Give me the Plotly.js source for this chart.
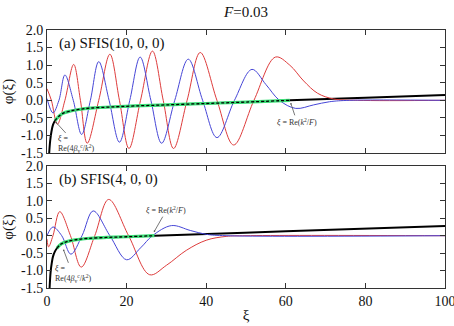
<!DOCTYPE html>
<html>
<head>
<meta charset="utf-8">
<script src="https://cdn.plot.ly/plotly-3.0.1.min.js"></script>
<style>html,body{margin:0;padding:0;background:#fff;}#chart{width:454px;height:326px;}</style>
</head>
<body>
<div id="chart"></div>
<script>
// ---------- data ----------
// Panel (a) SFIS(10,0,0)
const redXiA  = [0, 1.1, 2.6, 4.5, 6.7, 8.4, 10.1, 13.0, 15.8, 18.2, 20.6, 23.5, 26.5, 29.2, 31.8, 35.2, 38.5, 42.7, 46.9, 52.0, 57.4, 61.0, 64.5, 68.0, 72.0, 78.0, 100];
const redPhiA = [0.33, 0, -0.68, 0, 1.02, 0, -1.22, 0, 1.31, 0, -1.37, 0, 1.40, 0, -1.37, 0, 1.36, 0, -1.27, 0, 1.23, 1.0, 0.55, 0.2, 0.04, 0, 0];
const blueXiA  = [0, 1.5, 3.0, 4.5, 6.6, 8.7, 10.9, 13.0, 15.6, 18.2, 20.8, 23.4, 26.1, 28.8, 32.1, 35.5, 39.1, 42.7, 47.1, 51.5, 55.0, 58.4, 62.5, 67.0, 71.0, 76.0, 100];
const bluePhiA = [0.05, -0.36, 0, 0.72, 0, -0.97, 0, 1.10, 0, -1.19, 0, 1.23, 0, -1.22, 0, 1.17, 0, -1.06, 0, 0.88, 0.45, 0, -0.23, -0.13, -0.04, 0, 0];
const blackXiA  = [0.55, 0.8, 1.1, 1.5, 2.0, 3.0, 4.0, 5.7, 8.0, 11.0, 16.0, 22.0, 30.0, 40.0, 50.0, 61.0, 80.0, 100];
const blackPhiA = [-1.5, -1.15, -0.9, -0.7, -0.58, -0.45, -0.37, -0.31, -0.26, -0.22, -0.19, -0.16, -0.13, -0.09, -0.05, 0, 0.075, 0.15];
const greenXiA  = [2.0, 3.0, 4.0, 5.7, 8.0, 11.0, 16.0, 22.0, 30.0, 40.0, 50.0, 61.0];
const greenPhiA = [-0.58, -0.45, -0.37, -0.31, -0.26, -0.22, -0.19, -0.16, -0.13, -0.09, -0.05, 0];

// Panel (b) SFIS(4,0,0)
const redXiB  = [0, 0.4, 1.5, 3.2, 5.9, 8.6, 12.0, 15.5, 20.5, 25.8, 30.0, 35.0, 40.0, 45.0, 50.0, 100];
const redPhiB = [-0.1, -0.32, 0, 0.69, 0, -0.90, 0, 1.04, 0, -1.12, -0.85, -0.42, -0.13, -0.02, 0, 0];
const blueXiB  = [0, 1.5, 3.7, 6.0, 8.8, 11.6, 15.8, 20.0, 23.5, 26.5, 31.3, 36.0, 40.0, 45.0, 100];
const bluePhiB = [0, 0.25, 0, -0.53, 0, 0.71, 0, -0.69, -0.35, 0, 0.29, 0.15, 0.04, 0, 0];
const blackXiB  = [0.65, 0.9, 1.2, 1.5, 2.0, 2.5, 3.2, 4.0, 5.0, 7.0, 10.0, 15.0, 20.0, 27.0, 60.0, 100];
const blackPhiB = [-1.5, -1.05, -0.78, -0.6, -0.45, -0.36, -0.27, -0.21, -0.17, -0.12, -0.08, -0.05, -0.03, 0, 0.125, 0.28];
const greenXiB  = [2.5, 3.2, 4.0, 5.0, 7.0, 10.0, 15.0, 20.0, 27.0];
const greenPhiB = [-0.36, -0.27, -0.21, -0.17, -0.12, -0.08, -0.05, -0.03, 0];

// ticks
const xTicks = [0, 20, 40, 60, 80, 100];
const yTicks = [2.0, 1.5, 1.0, 0.5, 0.0, -0.5, -1.0, -1.5];
const yTickText = ["2.0", "1.5", "1.0", "0.5", "0.0", "-0.5", "-1.0", "-1.5"];

// annotation anchor points
const markA1 = [61.3, -0.1];   // ξ = Re(k²/F), panel a
const markA2 = [2.3, -0.63];   // ξ = Re(4β/k²), panel a
const markB1 = [27.0, 0.13];   // panel b
const markB2 = [4.2, -0.42];   // panel b

// ---------- styles ----------
const RED = 'rgb(222,60,60)', BLUE = 'rgb(70,70,215)', GREEN = 'rgb(60,225,120)';
const serif = 'Liberation Serif';

function ln(x, y, color, width, xa, ya, dash) {
  return {x: x, y: y, type: 'scatter', mode: 'lines', xaxis: xa, yaxis: ya,
          line: {color: color, width: width, shape: 'spline', smoothing: 1.0, dash: dash || 'solid'},
          hoverinfo: 'skip', showlegend: false};
}

const traces = [
  ln(blackXiA, blackPhiA, 'black', 2, 'x', 'y'),
  ln(redXiA, redPhiA, RED, 1, 'x', 'y'),
  ln(blueXiA, bluePhiA, BLUE, 1, 'x', 'y'),
  ln(greenXiA, greenPhiA, GREEN, 3.2, 'x', 'y'),
  ln(greenXiA, greenPhiA, 'black', 1.3, 'x', 'y', '3px,2px'),
  ln(blackXiB, blackPhiB, 'black', 2, 'x2', 'y2'),
  ln(redXiB, redPhiB, RED, 1, 'x2', 'y2'),
  ln(blueXiB, bluePhiB, BLUE, 1, 'x2', 'y2'),
  ln(greenXiB, greenPhiB, GREEN, 3.2, 'x2', 'y2'),
  ln(greenXiB, greenPhiB, 'black', 1.3, 'x2', 'y2', '3px,2px')
];

const xCommon = {range: [0, 100], tickvals: xTicks, ticks: 'inside', ticklen: 5, tickcolor: '#333',
  showline: true, linecolor: '#333', linewidth: 1, mirror: 'ticks', showgrid: false, zeroline: false,
  ticklabeloverflow: 'allow',
  tickfont: {family: serif, size: 14, color: '#111'}};
const yCommon = {range: [-1.5, 2.0], tickvals: yTicks, ticktext: yTickText, ticks: 'inside', ticklen: 5, tickcolor: '#333',
  showline: true, linecolor: '#333', linewidth: 1, mirror: 'ticks', showgrid: false, zeroline: false,
  tickfont: {family: serif, size: 14, color: '#111'},
  title: {text: 'φ(ξ)', font: {family: serif, size: 15, color: '#111'}, standoff: 5}};

const annFont = {family: serif, size: 8, color: '#333'};
function mark(pt, xa, ya, text, ax, ay, align) {
  return {x: pt[0], y: pt[1], xref: xa, yref: ya, text: text, showarrow: true,
          arrowhead: 6, arrowsize: 0.5, arrowwidth: 0.8, arrowcolor: '#555',
          ax: ax, ay: ay, font: annFont, align: align || 'center'};
}

const layout = {
  width: 454, height: 326,
  margin: {l: 47, r: 9, t: 30, b: 38},
  paper_bgcolor: 'white', plot_bgcolor: 'white',
  title: {text: '<i>F</i>=0.03', font: {family: serif, size: 15, color: '#111'}, xref: 'paper', x: 0.5, xanchor: 'center', y: 0.965, yanchor: 'middle'},
  xaxis: Object.assign({}, xCommon, {anchor: 'y', showticklabels: false}),
  yaxis: Object.assign({}, yCommon, {domain: [0.523, 1], anchor: 'x'}),
  xaxis2: Object.assign({}, xCommon, {anchor: 'y2', title: {text: 'ξ', font: {family: serif, size: 15, color: '#111'}, standoff: 1}}),
  yaxis2: Object.assign({}, yCommon, {domain: [0, 0.473], anchor: 'x2'}),
  annotations: [
    {xref: 'x domain', yref: 'y domain', x: 0.025, y: 0.89, xanchor: 'left', yanchor: 'middle', showarrow: false,
     text: '(a) SFIS(10, 0, 0)', font: {family: serif, size: 15, color: '#111'}},
    {xref: 'x2 domain', yref: 'y2 domain', x: 0.025, y: 0.89, xanchor: 'left', yanchor: 'middle', showarrow: false,
     text: '(b) SFIS(4, 0, 0)', font: {family: serif, size: 15, color: '#111'}},
    mark(markA1, 'x', 'y', '<i>ξ</i> = Re(<i>k</i><sup>2</sup>/<i>F</i>)', 6, 18),
    mark(markA2, 'x', 'y', '<i>ξ</i> =<br>Re(4<i>β</i><sub>v</sub><sup>c</sup>/<i>k</i><sup>2</sup>)', 20, 22, 'left'),
    mark(markB1, 'x2', 'y2', '<i>ξ</i> = Re(<i>k</i><sup>2</sup>/<i>F</i>)', 12, -21),
    mark(markB2, 'x2', 'y2', '<i>ξ</i> =<br>Re(4<i>β</i><sub>v</sub><sup>c</sup>/<i>k</i><sup>2</sup>)', 9, 24, 'left')
  ]
};

Plotly.newPlot('chart', traces, layout, {staticPlot: true, displayModeBar: false});
</script>
</body>
</html>
